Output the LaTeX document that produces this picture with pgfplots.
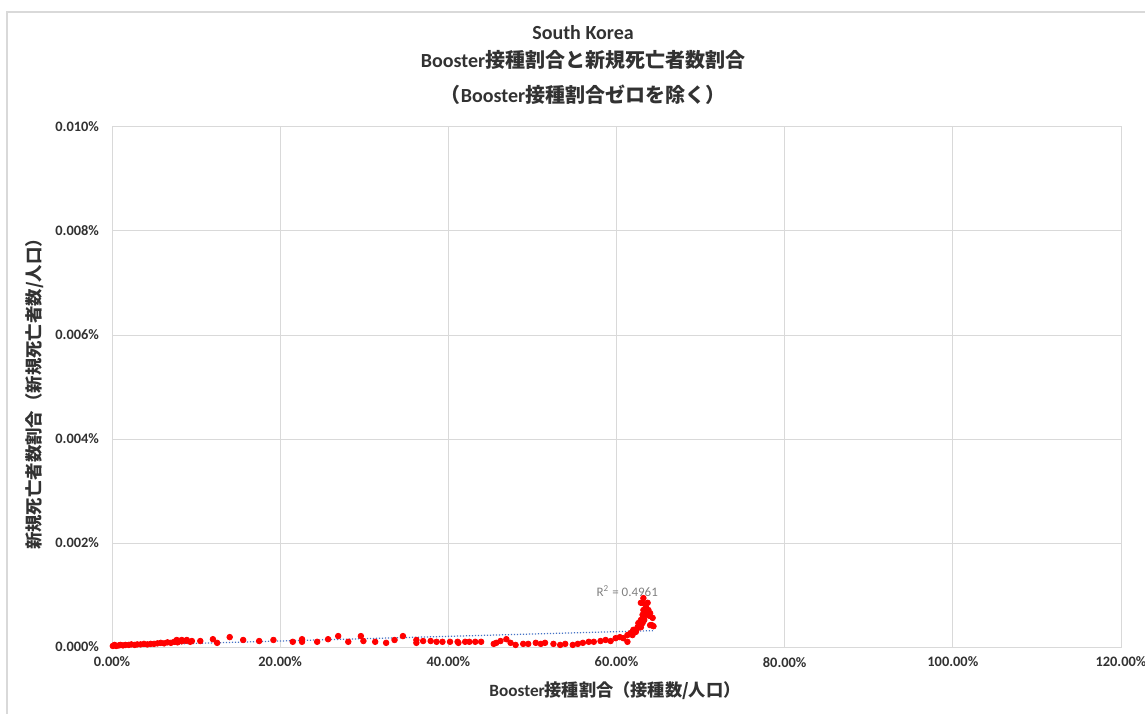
\documentclass[border=0pt]{standalone}
\usepackage{pgfplots}
\pgfplotsset{compat=1.18}
\usepackage{fontspec}
\setmainfont{Carlito}
\newfontfamily\cjk{Noto Sans CJK JP}
\definecolor{gridc}{RGB}{217,217,217}
\definecolor{axisc}{RGB}{200,200,200}
\definecolor{tickc}{RGB}{50,50,50}
\definecolor{trendc}{RGB}{68,114,196}
\definecolor{ptc}{RGB}{255,0,0}
\begin{document}
\begin{tikzpicture}[x=0.5pt,y=0.5pt]
\useasboundingbox (0,0) rectangle (1145,713);
\draw[gridc,line width=0.6pt] (7,-5) -- (7,701) -- (1150,701);
\node[font=\fontsize{10}{11}\selectfont\bfseries,text=tickc] at (583,680) {South Korea};
\node[font=\fontsize{10}{11}\selectfont\bfseries,text=tickc] at (583,653) {Booster{\cjk\bfseries 接種割合と新規死亡者数割合}};
\node[font=\fontsize{10}{11}\selectfont\bfseries,text=tickc] at (583,618) {{\cjk\bfseries （}Booster{\cjk\bfseries 接種割合ゼロを除く）}};
\node[font=\fontsize{8.6}{9}\selectfont\bfseries,text=tickc] at (615,22) {Booster{\cjk\bfseries 接種割合（接種数/人口）}};
\node[font=\fontsize{8.7}{9}\selectfont\bfseries,text=tickc,rotate=90] at (35,323) {{\cjk\bfseries 新規死亡者数割合（新規死亡者数/人口）}};
\begin{axis}[
  at={(56pt,33pt)}, anchor=south west,
  scale only axis, width=504.5pt, height=260pt,
  xmin=0, xmax=120, ymin=0, ymax=0.01,
  xtick={0,20,40,60,80,100,120},
  ytick={0,0.002,0.004,0.006,0.008,0.01},
  scaled x ticks=false, scaled y ticks=false,
  /pgf/number format/assume math mode=true,
  xticklabel={\pgfmathprintnumber[fixed,fixed zerofill,precision=2]{\tick}\%},
  yticklabel={\pgfmathprintnumber[fixed,fixed zerofill,precision=3]{\tick}\%},
  ticklabel style={font=\fontsize{7.2}{8}\selectfont\bfseries,text=tickc},
  xticklabel style={yshift=-1.5pt},
  yticklabel style={xshift=-3pt},
  major tick length=0pt,
  grid=major,
  major grid style={gridc,line width=0.5pt},
  axis line style={gridc,line width=0.5pt},
  clip=false,
]
\addplot[trendc, line width=0.6pt, dash pattern=on 0.6pt off 0.9pt] coordinates {(0,0.000025) (64.4,0.000315)};
\node[anchor=west,text=gray,font=\fontsize{6.5}{7}\selectfont] at (axis cs:56.8,0.00108) {R\textsuperscript{2} = 0.4961};
\addplot[only marks, mark=*, mark size=1.4pt, color=ptc, mark options={fill=ptc,draw=ptc}] coordinates {
(0.1,0.00002) (0.3,0.00004) (0.5,0.00002) (0.8,0.00003) (1.0,0.00004) (1.3,0.00003) (1.6,0.00004) (2.0,0.00004) (2.3,0.00005) (2.7,0.00004) (3.0,0.00005) (3.4,0.00005) (3.8,0.00006) (4.2,0.00005) (4.6,0.00006) (5.0,0.00006) (5.4,0.00007) (5.8,0.00008) (6.2,0.00007) (6.6,0.00009) (7.0,0.00008) (7.4,0.0001) (7.8,0.00009) (8.3,0.00011) (8.8,0.00012) (9.3,0.0001)
(7.7,0.000135) (8.3,0.000135) (8.9,0.000135) (9.5,0.000115) (10.5,0.000115) (12.0,0.00015) (12.5,0.00008) (14.0,0.00019) (15.6,0.000135) (17.5,0.000115) (19.2,0.000135)
(21.5,0.0001) (22.6,0.00015) (22.6,0.0001) (24.4,0.0001) (25.7,0.00015) (26.9,0.00021) (28.1,0.0001) (29.6,0.00021) (29.9,0.000115) (31.3,0.0001) (32.6,0.00008) (33.6,0.000135) (34.6,0.00021)
(36.2,0.000135) (36.2,0.00008) (37.0,0.000115) (37.9,0.000115) (38.6,0.0001) (39.3,0.0001) (40.2,0.0001) (41.1,0.0001) (41.2,0.00008) (42.0,0.0001) (42.5,0.0001) (43.2,0.0001) (43.9,0.0001)
(45.4,0.00006) (45.7,0.00008) (46.2,0.000115) (46.9,0.00015) (47.4,0.00008) (48.0,0.00004) (48.9,0.00006) (49.5,0.00006) (50.4,0.00008) (51.0,0.00006) (51.5,0.00008) (52.5,0.00006) (53.3,0.00004) (53.9,0.00006) (54.8,0.00004) (55.4,0.00006) (56.0,0.00008) (56.7,0.0001) (57.3,0.0001) (58.1,0.000115) (58.7,0.000135) (59.3,0.000115) (59.9,0.00017)
(60.4,0.00019) (60.8,0.00017) (61.3,0.0001) (61.3,0.00023) (61.7,0.00027) (61.9,0.00023) (62.0,0.00033) (62.3,0.00029) (62.5,0.00038) (62.6,0.00037) (62.6,0.00046) (62.9,0.00052) (62.9,0.00038) (63.1,0.00062) (63.1,0.00046) (63.1,0.00085) (63.2,0.00071) (63.2,0.00094) (63.5,0.00077) (63.5,0.00062) (63.7,0.00085) (63.8,0.00071) (64.0,0.00065) (64.0,0.00042) (64.2,0.00042) (64.3,0.00056) (64.4,0.0004) (62.9,0.00085) (63.4,0.00068) (63.9,0.00060) (63.3,0.00052) (62.8,0.00044)
};
\end{axis}
\end{tikzpicture}
\end{document}
